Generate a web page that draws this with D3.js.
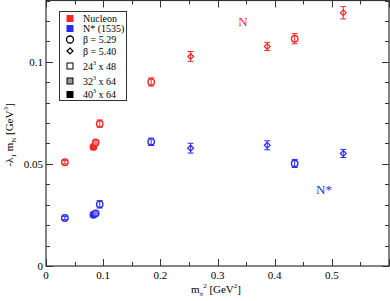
<!DOCTYPE html>
<html>
<head>
<meta charset="utf-8">
<script src="https://cdn.jsdelivr.net/npm/d3@7"></script>
<style>
  body { margin: 0; background: #fff; }
  svg { font-family: "Liberation Serif", "DejaVu Serif", serif; }
</style>
</head>
<body>
<svg id="chart" width="390" height="301"></svg>
<script>
// m_pi^2 values and -lambda_1 m_N values
var mpi2 = [0.033, 0.083, 0.087, 0.094, 0.184, 0.253, 0.387, 0.435, 0.520];
var beta = ["5.29", "5.29", "5.29", "5.29", "5.29", "5.40", "5.40", "5.29", "5.40"];
var lattice = ["24", "40", "32", "24", "24", "24", "24", "24", "24"];
var nucleon = [0.0508, 0.0583, 0.0605, 0.0697, 0.0901, 0.1026, 0.1075, 0.1113, 0.1240];
var nucleonErr = [0.0008, 0.0006, 0.0006, 0.0018, 0.0020, 0.0024, 0.0020, 0.0025, 0.0030];
var nstar = [0.0235, 0.0251, 0.0258, 0.0302, 0.0608, 0.0577, 0.0591, 0.0502, 0.0551];
var nstarErr = [0.0008, 0.0006, 0.0006, 0.0018, 0.0018, 0.0024, 0.0022, 0.0020, 0.0020];

var xTicks = [0, 0.1, 0.2, 0.3, 0.4, 0.5];
var yTicks = [0, 0.05, 0.1];

(function () {
var svg = d3.select("#chart");
var pLeft = 46, pRight = 389, pTop = 0.5, pBottom = 266;

var x = d3.scaleLinear().domain([0, 0.6]).range([pLeft, pRight]);
var y = d3.scaleLinear().domain([0, 0.13]).range([pBottom, pTop]);

var red = "#f02a2a", blue = "#2b2bf0";

// frame ticks (inward, all four sides)
var g = svg.append("g").attr("stroke", "#333").attr("stroke-width", 1);
d3.range(0, 0.6001, 0.05).forEach(function (v, i) {
    var len = i % 2 === 0 ? 7 : 4;
    var px = Math.round(x(v)) + 0.5;
    g.append("line").attr("x1", px).attr("x2", px).attr("y1", pBottom).attr("y2", pBottom - len);
    g.append("line").attr("x1", px).attr("x2", px).attr("y1", pTop).attr("y2", pTop + len);
});
d3.range(0, 0.1301, 0.01).forEach(function (v, i) {
    var len = i % 5 === 0 ? 7 : 4;
    var py = Math.round(y(v)) + 0.5;
    g.append("line").attr("x1", pLeft).attr("x2", pLeft + len).attr("y1", py).attr("y2", py);
    g.append("line").attr("x1", pRight).attr("x2", pRight - len).attr("y1", py).attr("y2", py);
});
svg.append("rect")
    .attr("x", pLeft).attr("y", pTop)
    .attr("width", pRight - pLeft).attr("height", pBottom - pTop)
    .attr("fill", "none").attr("stroke", "#333").attr("stroke-width", 1.2);

// tick labels
svg.append("g").selectAll("text").data(xTicks).join("text")
    .attr("x", d => x(d)).attr("y", pBottom + 13)
    .attr("text-anchor", "middle").attr("font-size", 11)
    .text(d => d);
svg.append("g").selectAll("text").data(yTicks).join("text")
    .attr("x", pLeft - 3).attr("y", d => y(d) + 4)
    .attr("text-anchor", "end").attr("font-size", 11)
    .text(d => d);

// axis titles
var xt = svg.append("text").attr("x", 216).attr("y", 293)
    .attr("text-anchor", "middle").attr("font-size", 11);
xt.append("tspan").text("m");
xt.append("tspan").attr("font-size", 7).attr("dy", 3).text("π");
xt.append("tspan").attr("font-size", 7).attr("dy", -8).text("2");
xt.append("tspan").attr("dy", 5).text(" [GeV");
xt.append("tspan").attr("font-size", 7).attr("dy", -5).text("2");
xt.append("tspan").attr("dy", 5).text("]");

var yt = svg.append("text").attr("transform", "translate(13,135) rotate(-90)")
    .attr("text-anchor", "middle").attr("font-size", 11);
yt.append("tspan").text("-λ");
yt.append("tspan").attr("font-size", 7).attr("dy", 3).text("1");
yt.append("tspan").attr("dy", -3).text(" m");
yt.append("tspan").attr("font-size", 7).attr("dy", 3).text("N");
yt.append("tspan").attr("dy", -3).text(" [GeV");
yt.append("tspan").attr("font-size", 7).attr("dy", -5).text("3");
yt.append("tspan").attr("dy", 5).text("]");

// data points
function fillFor(col, lat, light) {
    if (lat === "40") return col;
    if (lat === "32") return light;
    return "none";
}
function drawSeries(vals, errs, col, light) {
    var s = svg.append("g");
    vals.forEach(function (v, i) {
        var cx = x(mpi2[i]), cy = y(v);
        var e1 = y(v + errs[i]), e2 = y(v - errs[i]);
        var pg = s.append("g").attr("stroke", col).attr("stroke-width", 1);
        if (lattice[i] === "24") {
            pg.append("line").attr("x1", cx).attr("x2", cx).attr("y1", e1).attr("y2", e2);
            pg.append("line").attr("x1", cx - 3).attr("x2", cx + 3).attr("y1", e1).attr("y2", e1);
            pg.append("line").attr("x1", cx - 3).attr("x2", cx + 3).attr("y1", e2).attr("y2", e2);
        }
        var f = fillFor(col, lattice[i], light);
        if (beta[i] === "5.29") {
            pg.append("circle").attr("cx", cx).attr("cy", cy).attr("r", 3.2)
                .attr("fill", f).attr("stroke-width", 1.4);
        } else {
            pg.append("path")
                .attr("d", d3.symbol().type(d3.symbolDiamond2).size(22)())
                .attr("transform", "translate(" + cx + "," + cy + ")")
                .attr("fill", f).attr("stroke-width", 1.2);
        }
    });
}
drawSeries(nucleon, nucleonErr, red, "#f47a7a");
drawSeries(nstar, nstarErr, blue, "#7a7af4");

// curve labels
svg.append("text").attr("x", 243).attr("y", 26).attr("text-anchor", "middle")
    .attr("font-size", 13).attr("fill", red).text("N");
svg.append("text").attr("x", 324).attr("y", 194).attr("text-anchor", "middle")
    .attr("font-size", 13).attr("fill", blue).text("N*");

// legend
var lg = svg.append("g");
lg.append("rect").attr("x", 59.5).attr("y", 11.5).attr("width", 67).attr("height", 89)
    .attr("fill", "#fff").attr("stroke", "#333").attr("stroke-width", 1);
var legendRows = [
    { y: 18.5, kind: "sq", fill: red, label: "Nucleon" },
    { y: 28.5, kind: "sq", fill: blue, label: "N* (1535)" },
    { y: 39.5, kind: "circle", label: "β = 5.29" },
    { y: 51, kind: "diamond", label: "β = 5.40" },
    { y: 66, kind: "box", fill: "#fff", label: ["24", "3", " x 48"] },
    { y: 81, kind: "box", fill: "#999", label: ["32", "3", " x 64"] },
    { y: 94.5, kind: "box", fill: "#000", label: ["40", "3", " x 64"] }
];
legendRows.forEach(function (r) {
    if (r.kind === "sq") {
        lg.append("rect").attr("x", 66.5).attr("y", r.y - 3.5).attr("width", 7).attr("height", 7)
            .attr("fill", r.fill);
    } else if (r.kind === "circle") {
        lg.append("circle").attr("cx", 70).attr("cy", r.y).attr("r", 3.5)
            .attr("fill", "none").attr("stroke", "#000").attr("stroke-width", 1.3);
    } else if (r.kind === "diamond") {
        lg.append("path").attr("d", d3.symbol().type(d3.symbolDiamond2).size(22)())
            .attr("transform", "translate(70," + r.y + ")")
            .attr("fill", "none").attr("stroke", "#000").attr("stroke-width", 1.3);
    } else {
        lg.append("rect").attr("x", 67).attr("y", r.y - 3).attr("width", 6).attr("height", 6)
            .attr("fill", r.fill).attr("stroke", "#000").attr("stroke-width", 1);
    }
    var t = lg.append("text").attr("x", 83).attr("y", r.y + 3.5).attr("font-size", 10);
    if (typeof r.label === "string") {
        t.text(r.label);
    } else {
        t.append("tspan").text(r.label[0]);
        t.append("tspan").attr("font-size", 6).attr("dy", -5).text(r.label[1]);
        t.append("tspan").attr("dy", 5).text(r.label[2]);
    }
});
})();
</script>
</body>
</html>
